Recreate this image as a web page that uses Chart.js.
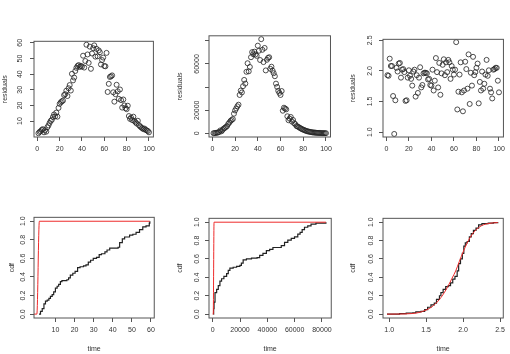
<!DOCTYPE html>
<html>
<head>
<meta charset="utf-8">
<script src="https://cdn.jsdelivr.net/npm/chart.js"></script>
<style>
  html, body { margin: 0; padding: 0; background: #fff; }
  #wrap { position: relative; width: 510px; height: 354px; overflow: hidden; }
  #wrap canvas { position: absolute; }
</style>
</head>
<body>
<div id="wrap"></div>
<script>
// ---------- data ----------
const obsIndex = [1,2,3,4,5,6,7,8,9,10,11,12,13,14,15,16,17,18,19,20,
  21,22,23,24,25,26,27,28,29,30,31,32,33,34,35,36,37,38,39,40,
  41,42,43,44,45,46,47,48,49,50,51,52,53,54,55,56,57,58,59,60,
  61,62,63,64,65,66,67,68,69,70,71,72,73,74,75,76,77,78,79,80,
  81,82,83,84,85,86,87,88,89,90,91,92,93,94,95,96,97,98,99,100];

const residLinear = [2.2,3.0,3.5,4.4,4.8,2.8,4.2,3.2,6.0,7.2,
  8.8,10.1,10.8,12.6,14.2,13.0,15.4,12.8,18.4,21.0,
  22.0,22.6,23.1,26.6,27.2,29.4,26.0,31.0,33.0,29.5,
  40.2,36.0,37.8,42.0,44.0,45.2,45.8,44.6,45.3,44.8,
  51.8,44.2,48.4,58.8,52.6,47.2,57.6,43.4,53.2,56.6,
  58.4,51.2,56.2,51.4,55.2,54.0,46.2,49.0,50.6,45.2,
  45.0,53.6,28.6,33.8,38.2,38.6,39.2,28.4,22.4,27.2,
  33.2,29.0,24.2,30.2,23.4,18.6,23.8,20.0,18.2,17.6,
  19.8,13.2,11.4,12.2,10.6,12.8,10.0,9.2,8.4,10.2,
  7.4,6.6,6.0,5.4,4.8,5.2,4.4,4.0,3.6,2.8];

const residSquare = [200,300,400,600,800,1200,2600,1800,3000,4200,
  4800,5600,6400,8200,9400,10800,11600,12400,17000,19800,
  21600,23400,24800,33200,37000,35400,40800,46200,43000,53200,
  60600,53600,57400,65800,70200,68400,70600,68200,67000,75800,
  71400,63400,81400,72200,61600,73800,54400,63600,65200,65800,
  55800,57600,54200,52000,49400,43000,40200,36800,35000,33200,
  36600,19600,22200,21400,20800,14800,11400,12800,14200,10200,
  11600,8800,8000,6400,6000,5400,4800,4200,3600,3200,
  2800,2400,2000,1800,1500,1300,1100,900,800,700,
  600,500,450,400,350,300,260,230,200,180];

const residLog = [1.93,1.92,2.20,2.08,2.08,1.59,0.97,1.52,2.05,1.99,
  2.12,2.13,1.89,2.02,2.03,1.98,1.51,1.52,1.89,2.01,
  1.92,1.87,1.76,1.99,2.02,1.58,1.93,1.64,1.89,2.06,
  1.73,1.77,1.96,1.97,1.97,1.96,1.86,1.87,1.77,1.76,
  2.02,1.68,1.84,2.21,1.98,1.73,2.13,1.61,1.96,2.10,
  2.19,1.93,2.14,1.98,2.18,2.14,1.87,2.08,2.02,1.94,
  2.02,2.47,1.37,1.66,1.94,2.14,1.65,1.34,1.68,2.15,
  2.03,1.71,2.27,1.46,1.97,1.76,2.23,1.93,1.98,2.05,
  2.12,1.47,1.82,1.68,1.99,1.71,1.79,1.94,2.18,1.92,
  2.01,1.71,1.65,1.55,2.02,2.03,2.05,2.05,1.84,1.65];

// empirical cdf of the times (black) and fitted cdf (red)
const ecdfTimeA = [1.4,2.2,3.1,4.0,4.8,5.7,6.6,7.4,8.3,9.1,10.0,10.9,11.7,12.6,13.4,16.0,16.9,17.8,19.1,20.3,
  21.6,22.9,24.7,26.0,27.2,28.4,29.8,31.5,32.9,34.1,35.9,37.0,38.4,42.8,43.6,45.0,46.2,48.8,50.5,52.2,
  54.0,55.7,57.4,59.1,59.4];
const ecdfProbA = [0.0,0.03,0.06,0.11,0.14,0.15,0.17,0.19,0.21,0.24,0.28,0.30,0.32,0.35,0.36,0.37,0.39,0.42,0.44,0.46,
  0.50,0.51,0.52,0.53,0.56,0.58,0.60,0.61,0.64,0.65,0.67,0.69,0.71,0.72,0.77,0.81,0.83,0.85,0.86,0.88,
  0.91,0.94,0.95,0.98,1.0];
const fitTimeA = [-1.2,0.3,1.6,59.4];
const fitProbA = [0,0,1,1];

const ecdfTimeB = [500,700,1000,1700,2900,4100,5300,6500,8200,10200,11400,12600,15000,17500,19900,21000,22300,24700,28400,32500,
  34400,36800,39300,41700,44100,47800,50200,52600,55000,57500,59900,62300,64000,65500,67200,69600,72000,75600,79000,82900];
const ecdfProbB = [0.0,0.06,0.13,0.235,0.27,0.31,0.36,0.385,0.41,0.44,0.475,0.50,0.51,0.52,0.53,0.555,0.59,0.60,0.61,0.615,
  0.64,0.66,0.69,0.705,0.725,0.725,0.745,0.78,0.805,0.825,0.84,0.87,0.89,0.92,0.945,0.96,0.98,0.99,0.99,1.0];
const fitTimeB = [0,400,1000,82900];
const fitProbB = [0,0,1,1];

const ecdfTimeC = [0.97,1.14,1.23,1.32,1.36,1.43,1.48,1.52,1.565,1.61,1.64,1.68,1.70,1.73,1.765,1.80,1.83,1.86,1.89,1.92,
  1.94,1.965,1.99,2.01,2.03,2.055,2.085,2.11,2.14,2.175,2.21,2.255,2.34,2.41,2.47];
const ecdfProbC = [0.0,0.005,0.01,0.015,0.025,0.03,0.05,0.075,0.10,0.12,0.16,0.20,0.235,0.27,0.30,0.31,0.34,0.38,0.41,0.47,
  0.55,0.60,0.66,0.74,0.775,0.79,0.84,0.875,0.91,0.935,0.97,0.985,0.99,0.995,1.0];
const fitTimeC = [0.97,1.1,1.2,1.3,1.4,1.5,1.55,1.6,1.65,1.7,1.75,1.8,1.85,1.9,1.95,2.0,2.05,2.1,2.15,2.2,2.25,2.3,2.4,2.47];
const fitProbC = [0.000,0.001,0.002,0.006,0.017,0.045,0.065,0.094,0.132,0.180,0.240,0.310,0.390,0.470,0.575,0.675,0.765,0.84,0.895,0.935,0.962,0.978,0.992,0.996];

// ticks
const indexTicks = [0,20,40,60,80,100];
const indexLabels = ['0','20','40','60','80','100'];
const residATicks = [10,20,30,40,50,60];
const residALabels = ['10','20','30','40','50','60'];
const residBTicks = [0,20000,40000,60000,80000];
const residBLabels = ['0','20000','','60000',''];
const residCTicks = [1.0,1.5,2.0,2.5];
const residCLabels = ['1.0','1.5','2.0','2.5'];
const cdfTicks = [0,0.2,0.4,0.6,0.8,1.0];
const cdfLabels = ['0.0','0.2','0.4','0.6','0.8','1.0'];
const timeATicks = [10,20,30,40,50,60];
const timeALabels = ['10','20','30','40','50','60'];
const timeBTicks = [0,20000,40000,60000,80000];
const timeBLabels = ['0','20000','40000','60000','80000'];
const timeCTicks = [1.0,1.5,2.0,2.5];
const timeCLabels = ['1.0','1.5','2.0','2.5'];

// ---------- style ----------
const FONT_FAMILY = '"Liberation Sans", Arial, sans-serif';
const FONT_SIZE = 7;
const TEXT = '#333';
const AXIS = '#555';
const TICK_LEN = 4;

const pts = (xs, ys) => xs.map((x, i) => ({ x, y: ys[i] }));

function scatterSet(ys) {
  return {
    data: pts(obsIndex, ys),
    showLine: false,
    pointStyle: 'circle',
    pointRadius: 2.5,
    borderWidth: 0.8,
    pointBorderWidth: 0.8,
    borderColor: '#222',
    backgroundColor: 'rgba(0,0,0,0)'
  };
}
function lineSet(xs, ys, color, width, stepped) {
  return {
    data: pts(xs, ys),
    showLine: true,
    pointRadius: 0,
    borderColor: color,
    borderWidth: width,
    stepped: stepped,
    cubicInterpolationMode: stepped ? 'default' : 'monotone',
    tension: stepped ? 0 : 0.4
  };
}

const RED = '#ee2a2a';
const BLACK = '#222';

const panels = [
  { box: [34, 35, 155, 137], x: [-2.96, 103.96], y: [-0.2, 61],
    xt: indexTicks, xl: indexLabels, yt: residATicks, yl: residALabels,
    yTitle: 'residuals', titleGap: 29, labelGap: 14, xTitle: '',
    sets: [scatterSet(residLinear)] },
  { box: [209, 35, 332, 137], x: [-2.96, 103.96], y: [-3100, 84300],
    xt: indexTicks, xl: indexLabels, yt: residBTicks, yl: residBLabels,
    yTitle: 'residuals', titleGap: 29, labelGap: 12, xTitle: '',
    sets: [scatterSet(residSquare)] },
  { box: [383, 35, 505, 137], x: [-2.96, 103.96], y: [0.92, 2.516],
    xt: indexTicks, xl: indexLabels, yt: residCTicks, yl: residCLabels,
    yTitle: 'residuals', titleGap: 30, labelGap: 13, xTitle: '',
    sets: [scatterSet(residLog)] },
  { box: [34, 215, 155, 318], x: [-1.2, 61.7], y: [-0.042, 1.042],
    xt: timeATicks, xl: timeALabels, yt: cdfTicks, yl: cdfLabels,
    yTitle: 'cdf', titleGap: 22, labelGap: 11, xTitle: 'time',
    sets: [lineSet(fitTimeA, fitProbA, RED, 1, false), lineSet(ecdfTimeA, ecdfProbA, BLACK, 1.2, true)] },
  { box: [209, 215, 332, 318], x: [-2700, 86800], y: [-0.042, 1.042],
    xt: timeBTicks, xl: timeBLabels, yt: cdfTicks, yl: cdfLabels,
    yTitle: 'cdf', titleGap: 29, labelGap: 12, xTitle: 'time',
    sets: [lineSet(fitTimeB, fitProbB, RED, 1, false), lineSet(ecdfTimeB, ecdfProbB, BLACK, 1.2, true)] },
  { box: [383, 215, 505, 318], x: [0.916, 2.544], y: [-0.042, 1.042],
    xt: timeCTicks, xl: timeCLabels, yt: cdfTicks, yl: cdfLabels,
    yTitle: 'cdf', titleGap: 30, labelGap: 12, xTitle: 'time',
    sets: [lineSet(fitTimeC, fitProbC, RED, 1, false), lineSet(ecdfTimeC, ecdfProbC, BLACK, 1.2, true)] }
];

// R-like box around the plot region
const boxPlugin = {
  id: 'rbox',
  afterDraw(chart) {
    const { ctx, chartArea: a } = chart;
    ctx.save();
    ctx.strokeStyle = AXIS;
    ctx.lineWidth = 1;
    ctx.strokeRect(a.left, a.top, a.right - a.left, a.bottom - a.top);
    ctx.restore();
  }
};

const measure = document.createElement('canvas').getContext('2d');
function widest(labels) {
  measure.font = FONT_SIZE + 'px ' + FONT_FAMILY;
  return Math.max(...labels.map(s => measure.measureText(s).width));
}

const LEFT = 34, TOP = 4, RIGHT = 4, BOTTOM = 36;
const wrap = document.getElementById('wrap');
const font = { family: FONT_FAMILY, size: FONT_SIZE };

panels.forEach(p => {
  const [l, t, r, b] = p.box;
  const W = r - l + LEFT + RIGHT, H = b - t + TOP + BOTTOM;
  const cv = document.createElement('canvas');
  cv.width = W; cv.height = H;
  cv.style.left = (l - LEFT) + 'px';
  cv.style.top = (t - TOP) + 'px';
  cv.style.width = W + 'px';
  cv.style.height = H + 'px';
  wrap.appendChild(cv);

  new Chart(cv, {
    type: 'scatter',
    data: { datasets: p.sets },
    options: {
      responsive: false,
      animation: false,
      devicePixelRatio: 1,
      layout: { padding: { top: TOP, right: RIGHT, left: 0, bottom: 0 } },
      plugins: { legend: { display: false }, tooltip: { enabled: false } },
      scales: {
        x: {
          type: 'linear', min: p.x[0], max: p.x[1],
          afterBuildTicks: s => { s.ticks = p.xt.map(v => ({ value: v })); },
          afterFit: s => { s.height = BOTTOM; },
          grid: { drawOnChartArea: false, drawTicks: true, tickLength: TICK_LEN, color: AXIS, lineWidth: 1 },
          border: { display: false },
          ticks: { autoSkip: false, minRotation: 0, maxRotation: 0, padding: 4, color: TEXT, font,
                   callback: (v, i) => p.xl[i] },
          title: { display: !!p.xTitle, text: p.xTitle, color: TEXT, font, padding: { top: 0, bottom: 1 } }
        },
        y: {
          type: 'linear', min: p.y[0], max: p.y[1],
          afterBuildTicks: s => { s.ticks = p.yt.map(v => ({ value: v })); },
          afterFit: s => { s.width = LEFT; },
          grid: { drawOnChartArea: false, drawTicks: true, tickLength: TICK_LEN, color: AXIS, lineWidth: 1 },
          border: { display: false },
          ticks: { autoSkip: false, minRotation: 90, maxRotation: 90, crossAlign: 'center',
                   padding: p.labelGap - TICK_LEN - widest(p.yl) / 2, color: TEXT, font,
                   callback: (v, i) => p.yl[i] },
          title: { display: true, text: p.yTitle, color: TEXT, font,
                   padding: { top: LEFT - p.titleGap - FONT_SIZE * 1.2 / 2, bottom: 0 } }
        }
      }
    },
    plugins: [boxPlugin]
  });
});
</script>
</body>
</html>
